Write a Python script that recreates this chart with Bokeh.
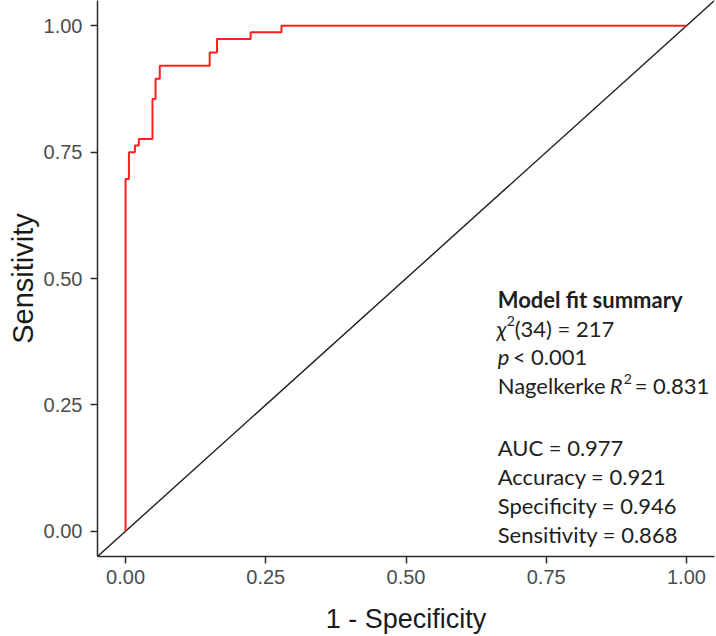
from bokeh.plotting import figure
from bokeh.models import Range1d, Slope, Label, PrintfTickFormatter
from bokeh.embed import file_html
from bokeh.resources import INLINE

# ROC curve points (1 - specificity, sensitivity)
fpr = [0.0, 0.0, 0.006, 0.0167, 0.0237, 0.048, 0.0535, 0.061, 0.150, 0.163, 0.223, 0.278, 1.0]
tpr = [0.0, 0.697, 0.750, 0.763, 0.776, 0.855, 0.895, 0.921, 0.947, 0.974, 0.987, 1.0, 1.0]

ticks = [0.0, 0.25, 0.50, 0.75, 1.0]

# Model fit summary values
chi_df = 34
chi_val = 217
p_text = "< 0.001"
r2 = 0.831
auc = 0.977
accuracy = 0.921
specificity = 0.946
sensitivity = 0.868

p = figure(width=716, height=636,
           x_range=Range1d(-0.05, 1.05), y_range=Range1d(-0.05, 1.05),
           output_backend="svg", toolbar_location=None,
           min_border_left=97, min_border_right=2,
           min_border_top=0, min_border_bottom=79)
p.outline_line_color = None
p.background_fill_color = "white"
p.border_fill_color = "white"
p.grid.visible = False

for ax in (p.xaxis, p.yaxis):
    ax.ticker = ticks
    ax.formatter = PrintfTickFormatter(format="%.2f")
    ax.axis_line_color = "#2e2a28"
    ax.axis_line_width = 1.5
    ax.major_tick_line_color = "#2e2a28"
    ax.major_tick_line_width = 1.5
    ax.major_tick_out = 7
    ax.major_tick_in = 0
    ax.minor_tick_line_color = None
    ax.major_label_text_font = "Liberation Sans"
    ax.major_label_text_font_size = "20px"
    ax.major_label_text_color = "#4d4d4d"
    ax.axis_label_text_font = "Liberation Sans"
    ax.axis_label_text_font_style = "normal"
    ax.axis_label_text_color = "#1a1a1a"

p.xaxis.axis_label = "1 - Specificity"
p.yaxis.axis_label = "Sensitivity"
p.xaxis.axis_label_text_font_size = "27px"
p.yaxis.axis_label_text_font_size = "29px"
p.xaxis.major_label_standoff = 6
p.yaxis.major_label_standoff = 8
p.xaxis.axis_label_standoff = 17
p.yaxis.axis_label_standoff = 2

diag = Slope(gradient=1, y_intercept=0, line_color="#1e1e1e", line_width=1.4)
diag.level = "underlay"
p.add_layout(diag)

p.step(fpr, tpr, mode="after", line_color="#ff1f1f", line_width=2.0)

# Annotation block
font = "Lato"
size = "22px"
sup = "14px"
col = "#1e1e1e"
x0 = 0.6635
y0 = 0.445 + 7 / 506.5
dy = 28.9 / 506.5
rows = [0, 1, 2, 3, 5.15, 6.15, 7.15, 8.15]


def lab(text, row, xoff=0, style="normal", fs=size, yoff=0):
    p.add_layout(Label(x=x0, y=y0 - rows[row] * dy, text=text,
                       x_offset=xoff, y_offset=yoff,
                       text_font=font, text_font_size=fs,
                       text_font_style=style, text_color=col,
                       text_baseline="alphabetic", text_align="left"))


lab("Model fit summary", 0, style="bold")
lab("\u03c7", 1, xoff=-1, style="italic")
lab("2", 1, xoff=9, fs=sup, yoff=7)
lab(f"({chi_df}) = {chi_val}", 1, xoff=17)
lab("p", 2, style="italic")
lab(p_text, 2, xoff=15)
lab("Nagelkerke", 3)
lab("R", 3, xoff=112, style="italic")
lab("2", 3, xoff=126, fs=sup, yoff=7)
lab(f"= {r2:.3f}", 3, xoff=137)
lab(f"AUC = {auc:.3f}", 4)
lab(f"Accuracy = {accuracy:.3f}", 5)
lab(f"Specificity = {specificity:.3f}", 6)
lab(f"Sensitivity = {sensitivity:.3f}", 7)

open("out.html", "w").write(file_html(p, INLINE))
